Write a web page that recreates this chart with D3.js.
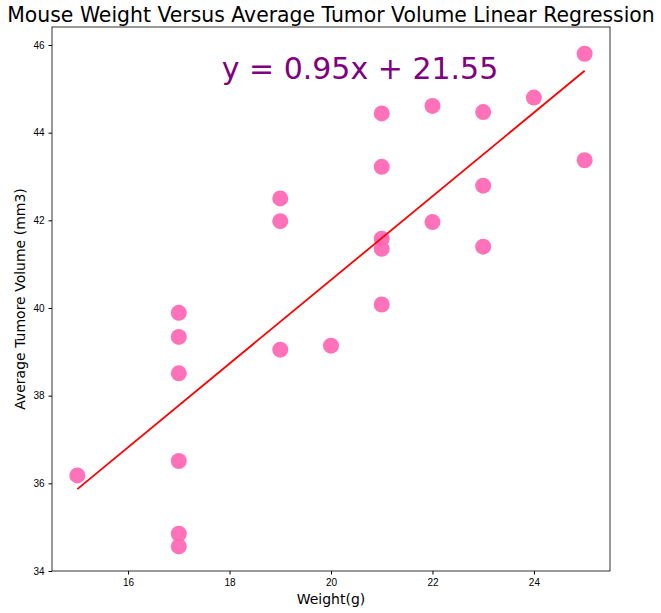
<!DOCTYPE html>
<html><head><meta charset="utf-8">
<script src="https://cdn.jsdelivr.net/npm/d3@7"></script>
<style>body{margin:0;background:#fff}svg{font-family:"DejaVu Sans",sans-serif}</style>
</head><body><svg width="661" height="613"></svg>
<script>
var weights = [15,17,17,17,17,17,17,19,19,19,20,21,21,21,21,21,22,22,23,23,23,24,25,25];
var volumes = [36.18,39.89,39.34,38.51,36.51,34.85,34.56,42.50,41.98,39.05,39.14,44.44,43.22,41.58,41.35,40.08,44.61,41.96,44.47,42.79,41.40,44.80,45.80,43.37];
var slope = 0.9544, intercept = 21.5522;
var xTicks = [16,18,20,22,24];
var yTicks = [34,36,38,40,42,44,46];

var svg = d3.select('svg');
var m = {l:52, r:610, t:27, b:571};
var x = d3.scaleLinear().domain([14.5,25.5]).range([m.l,m.r]);
var y = d3.scaleLinear().domain([34,46]).range([571,45]);

svg.append('g').attr('transform','translate(0,'+m.b+')')
  .call(d3.axisBottom(x).tickValues(xTicks).tickSize(3.5).tickPadding(4))
  .call(function(g){g.select('.domain').remove();g.selectAll('text').attr('font-size',10).attr('fill','#000');});
svg.append('g').attr('transform','translate('+m.l+',0)')
  .call(d3.axisLeft(y).tickValues(yTicks).tickSize(3.5).tickPadding(4))
  .call(function(g){g.select('.domain').remove();g.selectAll('text').attr('font-size',10).attr('fill','#000');});

svg.selectAll('circle').data(weights).enter().append('circle')
  .attr('cx', function(d){ return x(d); })
  .attr('cy', function(d,i){ return y(volumes[i]); })
  .attr('r', 8)
  .attr('fill', '#ff69b4')
  .attr('opacity', 0.95);

svg.append('line')
  .attr('x1', x(15)).attr('y1', y(slope*15+intercept))
  .attr('x2', x(25)).attr('y2', y(slope*25+intercept))
  .attr('stroke','red').attr('stroke-width',1.8);

svg.append('rect').attr('x',m.l).attr('y',m.t).attr('width',m.r-m.l).attr('height',m.b-m.t)
  .attr('fill','none').attr('stroke','#000').attr('stroke-width',0.8);

svg.append('text').attr('x',331).attr('y',22).attr('text-anchor','middle')
  .attr('font-size',20.4).text('Mouse Weight Versus Average Tumor Volume Linear Regression');
svg.append('text').attr('x',360).attr('y',79).attr('text-anchor','middle')
  .attr('font-size',30).attr('fill','purple').text('y = 0.95x + 21.55');
svg.append('text').attr('x',331).attr('y',604).attr('text-anchor','middle')
  .attr('font-size',14).text('Weight(g)');
svg.append('text').attr('transform','translate(25,299) rotate(-90)').attr('text-anchor','middle')
  .attr('font-size',14).text('Average Tumore Volume (mm3)');
</script></body></html>
